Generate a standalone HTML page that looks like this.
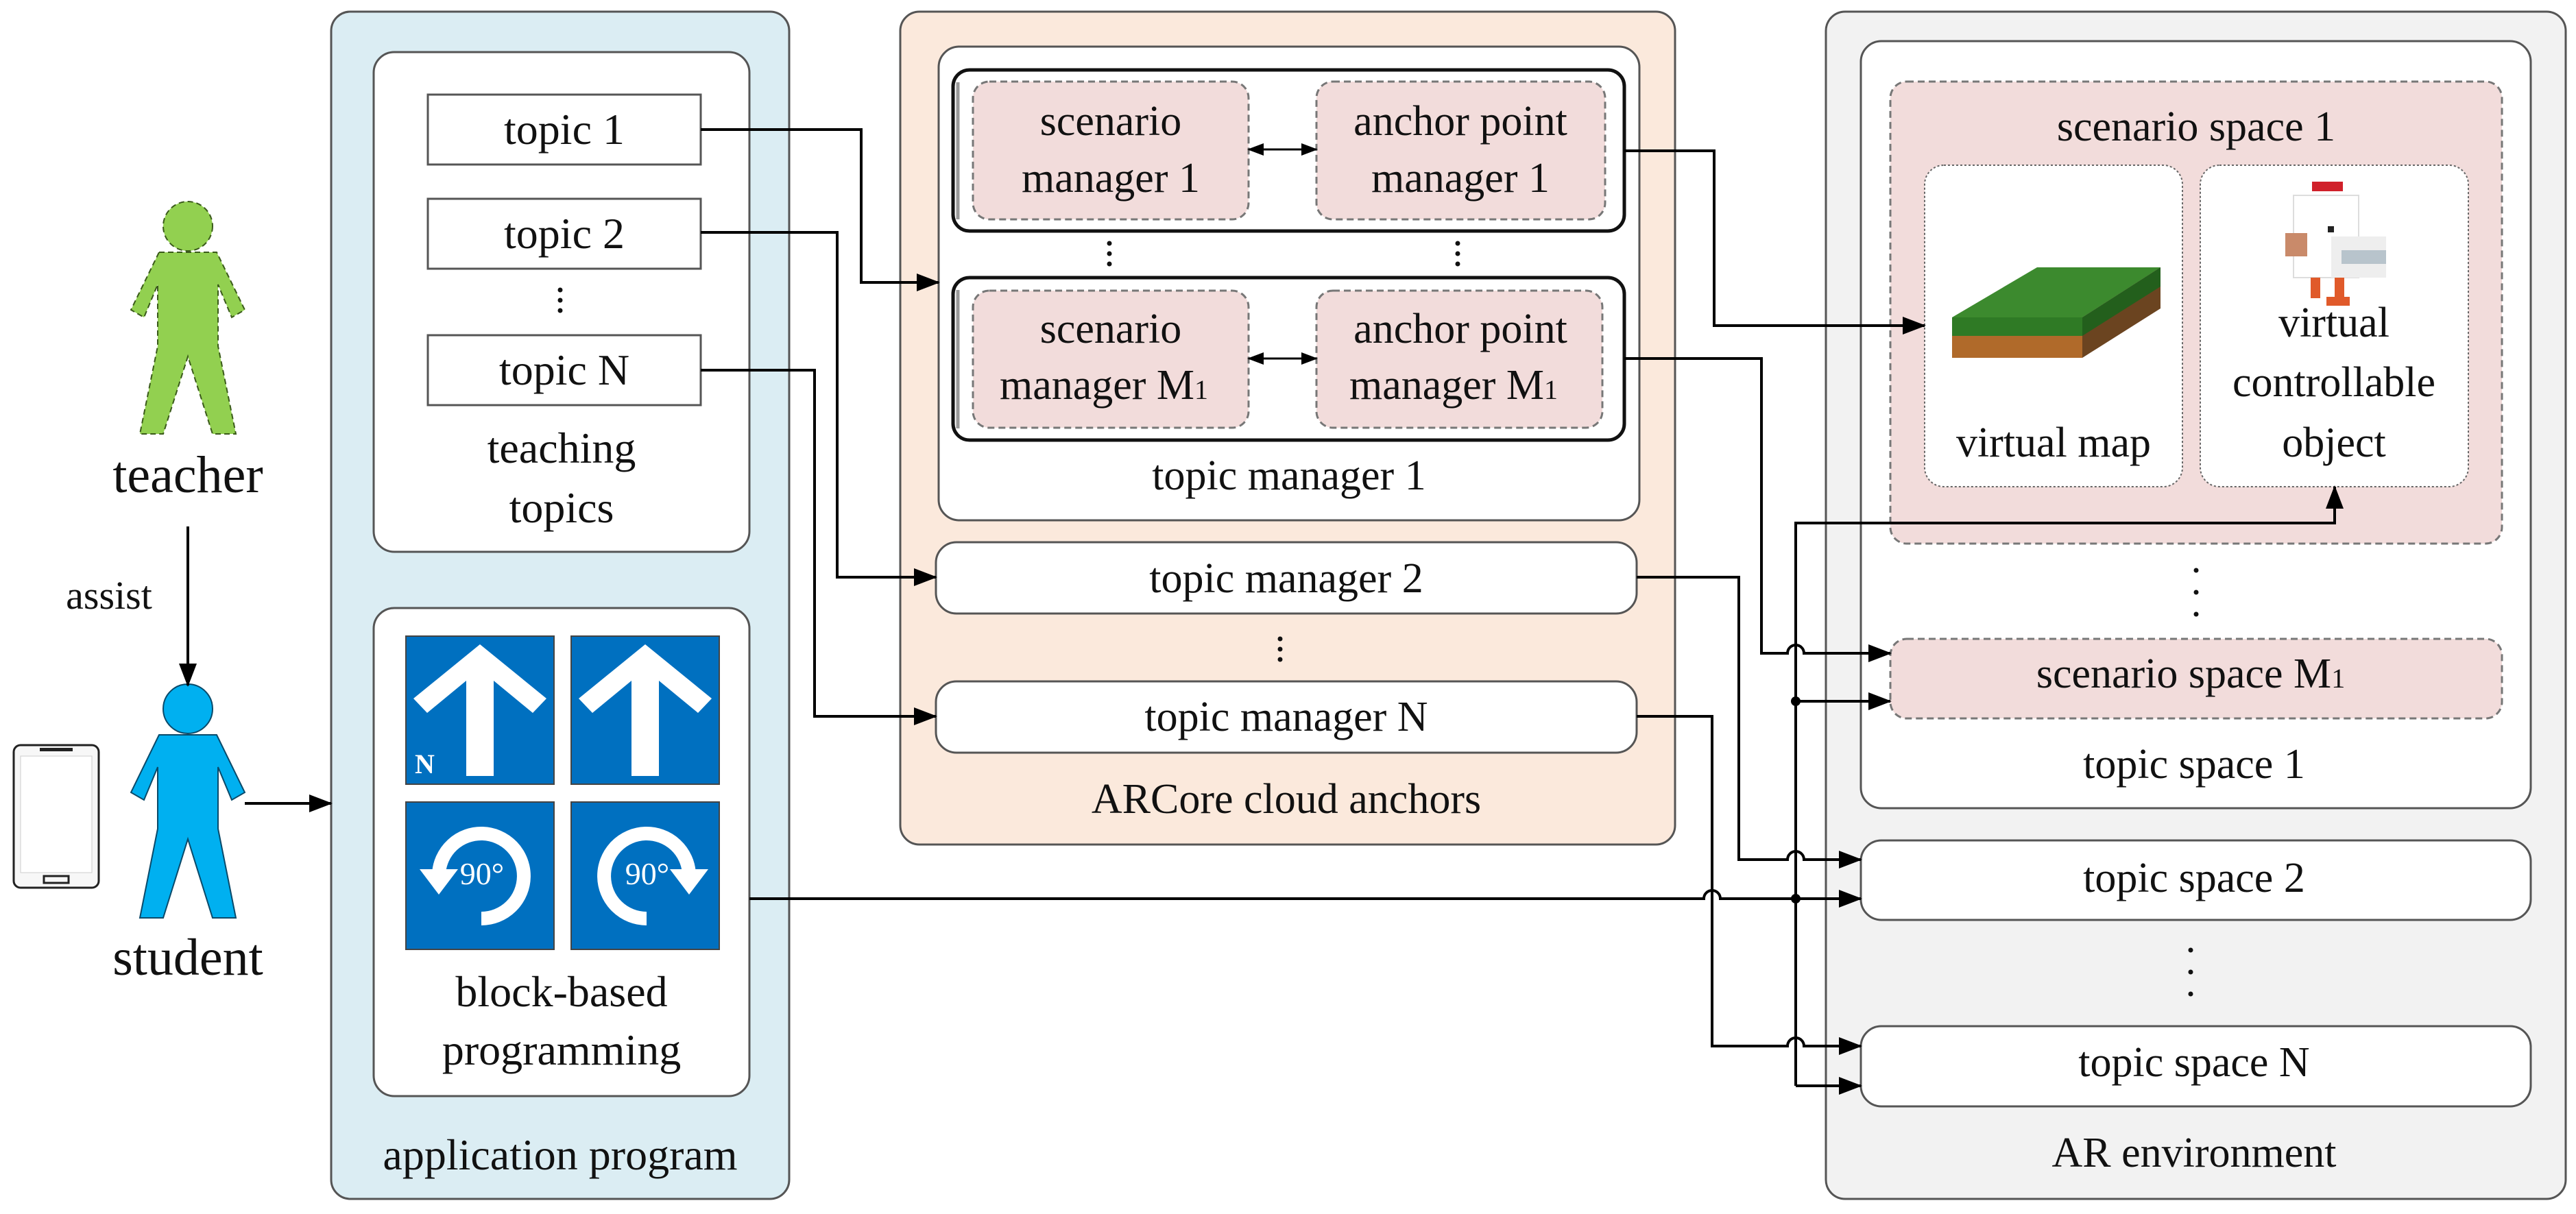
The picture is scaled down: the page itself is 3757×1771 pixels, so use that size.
<!DOCTYPE html>
<html><head><meta charset="utf-8"><style>
html,body{margin:0;padding:0;background:#fff;}
svg{display:block;}
svg text{font-family:"Liberation Serif","Times New Roman",serif;fill:#111;}
</style></head><body>
<svg width="3757" height="1771" viewBox="0 0 3757 1771" xmlns="http://www.w3.org/2000/svg" font-family="Liberation Serif, serif">
<defs>
<marker id="ah" markerUnits="userSpaceOnUse" markerWidth="34" markerHeight="26" refX="32" refY="13" orient="auto-start-reverse">
<path d="M0,0 L34,13 L0,26 Z" fill="#000"/>
</marker>
<marker id="as" markerUnits="userSpaceOnUse" markerWidth="24" markerHeight="18" refX="22" refY="9" orient="auto-start-reverse">
<path d="M0,0 L24,9 L0,18 Z" fill="#000"/>
</marker>
</defs>

<!-- application program -->
<rect x="483" y="17" width="668" height="1732" rx="28" fill="#dbedf3" stroke="#555" stroke-width="3"/>
<rect x="545" y="76" width="548" height="729" rx="30" fill="#fff" stroke="#555" stroke-width="3"/>
<rect x="624" y="138" width="398" height="102" fill="#fff" stroke="#555" stroke-width="3"/>
<rect x="624" y="290" width="398" height="102" fill="#fff" stroke="#555" stroke-width="3"/>
<rect x="624" y="489" width="398" height="102" fill="#fff" stroke="#555" stroke-width="3"/>
<g font-size="64" text-anchor="middle" font-family="Liberation Serif, serif">
<text x="823" y="210">topic 1</text>
<text x="823" y="362">topic 2</text>
<text x="823" y="561">topic N</text>
<text x="819" y="675">teaching</text>
<text x="819" y="762">topics</text>
</g>
<g fill="#111"><circle cx="817" cy="423" r="3.5"/><circle cx="817" cy="438" r="3.5"/><circle cx="817" cy="453" r="3.5"/></g>

<rect x="545" y="887" width="548" height="712" rx="30" fill="#fff" stroke="#555" stroke-width="3"/>
<g>
<rect x="592" y="928" width="216" height="216" fill="#0070c0" stroke="#444" stroke-width="2"/>
<rect x="833" y="928" width="216" height="216" fill="#0070c0" stroke="#444" stroke-width="2"/>
<rect x="592" y="1170" width="216" height="215" fill="#0070c0" stroke="#444" stroke-width="2"/>
<rect x="833" y="1170" width="216" height="215" fill="#0070c0" stroke="#444" stroke-width="2"/>
<polygon fill="#fff" points="700,940 797,1019 777,1040 720,993 720,1132 680,1132 680,993 623,1040 603,1019"/>
<polygon fill="#fff" points="941,940 1038,1019 1018,1040 961,993 961,1132 921,1132 921,993 864,1040 844,1019"/>
<text x="605" y="1128" font-size="40" font-weight="bold" font-family="Liberation Serif, serif" style="fill:#fff">N</text>
<path d="M702,1340 A62,62 0 1 0 640,1275" fill="none" stroke="#fff" stroke-width="20"/>
<polygon fill="#fff" points="612,1268 668,1268 640,1305"/>
<path d="M943,1340 A62,62 0 1 1 1005,1275" fill="none" stroke="#fff" stroke-width="20"/>
<polygon fill="#fff" points="977,1268 1033,1268 1005,1305"/>
<text x="703" y="1290" font-size="46" text-anchor="middle" font-family="Liberation Serif, serif" style="fill:#fff">90°</text>
<text x="944" y="1290" font-size="46" text-anchor="middle" font-family="Liberation Serif, serif" style="fill:#fff">90°</text>
</g>
<g font-size="64" text-anchor="middle" font-family="Liberation Serif, serif">
<text x="819" y="1468">block-based</text>
<text x="819" y="1553">programming</text>
<text x="817" y="1706">application program</text>
</g>

<!-- people -->
<g fill="#92d050" stroke="#3a5a1a" stroke-width="2" stroke-dasharray="8,5">
<circle cx="274" cy="330" r="36"/>
<polygon points="232,368 316,368 357,452 338,463 318,415 318,505 344,633 310,633 274,520 238,633 204,633 230,505 230,415 210,463 191,452"/>
</g>
<g fill="#00b0f0" stroke="#0a4a6a" stroke-width="2">
<circle cx="274" cy="1034" r="36"/>
<polygon points="232,1072 316,1072 357,1156 338,1167 318,1119 318,1209 344,1339 310,1339 274,1224 238,1339 204,1339 230,1209 230,1119 210,1167 191,1156"/>
</g>
<g font-size="76" text-anchor="middle" font-family="Liberation Serif, serif">
<text x="274" y="718">teacher</text>
<text x="274" y="1422">student</text>
</g>
<text x="159" y="888" font-size="58" text-anchor="middle" font-family="Liberation Serif, serif">assist</text>
<rect x="20" y="1087" width="124" height="208" rx="10" fill="#f7f7f7" stroke="#222" stroke-width="3"/>
<rect x="30" y="1103" width="104" height="170" fill="#fff" stroke="#ccc" stroke-width="1"/>
<rect x="58" y="1091" width="48" height="5" fill="#222"/>
<rect x="64" y="1278" width="36" height="10" fill="none" stroke="#222" stroke-width="3"/>

<!-- ARCore -->
<rect x="1313" y="17" width="1130" height="1215" rx="28" fill="#fbe9dc" stroke="#555" stroke-width="3"/>
<rect x="1369" y="68" width="1022" height="691" rx="30" fill="#fff" stroke="#555" stroke-width="3"/>
<rect x="1390" y="102" width="979" height="235" rx="24" fill="#fff" stroke="#111" stroke-width="5"/>
<path d="M1397,120 V320" stroke="#999" stroke-width="5"/>
<rect x="1390" y="405" width="979" height="237" rx="24" fill="#fff" stroke="#111" stroke-width="5"/>
<path d="M1397,423 V625" stroke="#999" stroke-width="5"/>
<g fill="#f2dcdb" stroke="#777" stroke-width="3" stroke-dasharray="10,6">
<rect x="1419" y="119" width="402" height="201" rx="24"/>
<rect x="1920" y="119" width="421" height="201" rx="24"/>
<rect x="1419" y="424" width="402" height="200" rx="24"/>
<rect x="1920" y="424" width="417" height="200" rx="24"/>
</g>
<g font-size="62" text-anchor="middle" font-family="Liberation Serif, serif">
<text x="1620" y="197">scenario</text>
<text x="1620" y="280">manager 1</text>
<text x="2130" y="197">anchor point</text>
<text x="2130" y="280">manager 1</text>
<text x="1620" y="500">scenario</text>
<text x="1610" y="582">manager M<tspan font-size="40">1</tspan></text>
<text x="2130" y="500">anchor point</text>
<text x="2120" y="582">manager M<tspan font-size="40">1</tspan></text>
<text x="1880" y="714">topic manager 1</text>
</g>
<path d="M1821,218 H1920" stroke="#000" stroke-width="3" marker-start="url(#as)" marker-end="url(#as)"/>
<path d="M1821,523 H1920" stroke="#000" stroke-width="3" marker-start="url(#as)" marker-end="url(#as)"/>
<g fill="#111">
<circle cx="1618" cy="355" r="3.5"/><circle cx="1618" cy="370" r="3.5"/><circle cx="1618" cy="385" r="3.5"/>
<circle cx="2126" cy="355" r="3.5"/><circle cx="2126" cy="370" r="3.5"/><circle cx="2126" cy="385" r="3.5"/>
<circle cx="1867" cy="932" r="3.5"/><circle cx="1867" cy="947" r="3.5"/><circle cx="1867" cy="962" r="3.5"/>
</g>
<rect x="1365" y="791" width="1022" height="104" rx="30" fill="#fff" stroke="#555" stroke-width="3"/>
<rect x="1365" y="994" width="1022" height="104" rx="30" fill="#fff" stroke="#555" stroke-width="3"/>
<g font-size="62" text-anchor="middle" font-family="Liberation Serif, serif">
<text x="1876" y="864">topic manager 2</text>
<text x="1876" y="1066">topic manager N</text>
<text x="1876" y="1186">ARCore cloud anchors</text>
</g>

<!-- AR environment -->
<rect x="2663" y="17" width="1079" height="1732" rx="28" fill="#f2f2f2" stroke="#555" stroke-width="3"/>
<rect x="2714" y="60" width="977" height="1119" rx="30" fill="#fff" stroke="#555" stroke-width="3"/>
<rect x="2757" y="119" width="892" height="674" rx="24" fill="#f2dcdb" stroke="#777" stroke-width="3" stroke-dasharray="10,6"/>
<rect x="2807" y="241" width="376" height="469" rx="28" fill="#fff" stroke="#666" stroke-width="2" stroke-dasharray="3,3"/>
<rect x="3209" y="241" width="391" height="469" rx="28" fill="#fff" stroke="#666" stroke-width="2" stroke-dasharray="3,3"/>
<polygon points="2847,463 2971,390 3151,390 3037,463" fill="#3c8a2e"/>
<polygon points="2847,463 3037,463 3037,522 2847,522" fill="#b06a2a"/>
<polygon points="2847,463 3037,463 3037,490 2847,490" fill="#2f7a25"/>
<polygon points="3037,463 3151,390 3151,450 3037,522" fill="#6b4420"/>
<polygon points="3037,463 3151,390 3151,418 3037,490" fill="#235f1c"/>
<!-- chicken -->
<rect x="3372" y="265" width="45" height="14" fill="#d0202a"/>
<rect x="3345" y="285" width="95" height="120" fill="#fff" stroke="#ddd" stroke-width="2"/>
<rect x="3400" y="345" width="80" height="60" fill="#eee"/>
<rect x="3415" y="365" width="65" height="20" fill="#b8c4cc"/>
<rect x="3333" y="340" width="32" height="34" fill="#c98a6a"/>
<rect x="3395" y="330" width="9" height="9" fill="#222"/>
<rect x="3370" y="405" width="14" height="30" fill="#e05a2a"/>
<rect x="3405" y="405" width="14" height="40" fill="#e05a2a"/>
<rect x="3393" y="433" width="34" height="13" fill="#e05a2a"/>
<g font-size="62" text-anchor="middle" font-family="Liberation Serif, serif">
<text x="3203" y="205">scenario space 1</text>
<text x="2995" y="666">virtual map</text>
<text x="3404" y="491">virtual</text>
<text x="3404" y="578">controllable</text>
<text x="3404" y="666">object</text>
</g>
<g fill="#111"><circle cx="3203" cy="832" r="3.5"/><circle cx="3203" cy="864" r="3.5"/><circle cx="3203" cy="896" r="3.5"/>
<circle cx="3195" cy="1386" r="3.5"/><circle cx="3195" cy="1418" r="3.5"/><circle cx="3195" cy="1450" r="3.5"/></g>
<rect x="2757" y="932" width="892" height="116" rx="24" fill="#f2dcdb" stroke="#777" stroke-width="3" stroke-dasharray="10,6"/>
<rect x="2714" y="1226" width="977" height="116" rx="30" fill="#fff" stroke="#555" stroke-width="3"/>
<rect x="2714" y="1497" width="977" height="117" rx="30" fill="#fff" stroke="#555" stroke-width="3"/>
<g font-size="62" text-anchor="middle" font-family="Liberation Serif, serif">
<text x="3195" y="1003">scenario space M<tspan font-size="40">1</tspan></text>
<text x="3200" y="1135">topic space 1</text>
<text x="3200" y="1301">topic space 2</text>
<text x="3200" y="1570">topic space N</text>
<text x="3200" y="1702">AR environment</text>
</g>

<!-- connectors -->
<g fill="none" stroke="#000" stroke-width="4">
<path d="M274,768 V1000" marker-end="url(#ah)"/>
<path d="M357,1172 H483" marker-end="url(#ah)"/>
<path d="M1022,189 H1256 V412 H1369" marker-end="url(#ah)"/>
<path d="M1022,339 H1221 V842 H1365" marker-end="url(#ah)"/>
<path d="M1022,540 H1188 V1045 H1365" marker-end="url(#ah)"/>
<path d="M2369,220 H2500 V475 H2807" marker-end="url(#ah)"/>
<path d="M2369,523 H2569 V953 H2607 A12,12 0 0 1 2631,953 H2757" marker-end="url(#ah)"/>
<path d="M2387,842 H2536 V1254 H2607 A12,12 0 0 1 2631,1254 H2714" marker-end="url(#ah)"/>
<path d="M2387,1045 H2497 V1526 H2607 A12,12 0 0 1 2631,1526 H2714" marker-end="url(#ah)"/>
<path d="M1093,1311 H2485 A12,12 0 0 1 2509,1311 H2714" marker-end="url(#ah)"/>
<path d="M2619,1584 V763 H3405 V710" marker-end="url(#ah)"/>
<path d="M2619,1023 H2757" marker-end="url(#ah)"/>
<path d="M2619,1584 H2714" marker-end="url(#ah)"/>
</g>
<circle cx="2619" cy="1023" r="7" fill="#000"/>
<circle cx="2619" cy="1311" r="7" fill="#000"/>
</svg>
</body></html>
